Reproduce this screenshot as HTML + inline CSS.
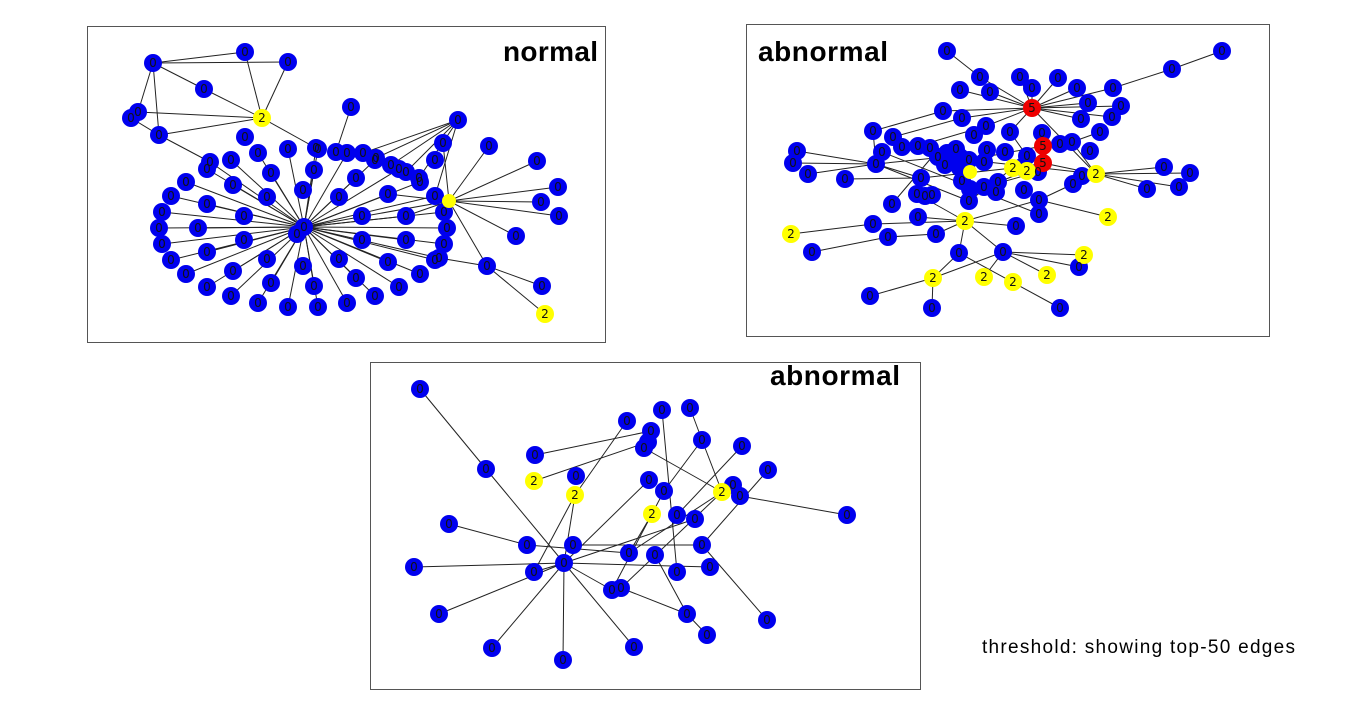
<!DOCTYPE html>
<html><head><meta charset="utf-8"><style>
body{margin:0;background:#fff;width:1372px;height:706px;overflow:hidden}
svg{position:absolute;left:0;top:0}
.e line{stroke:#222;stroke-width:1}
.b circle{fill:#0000ee}.y circle{fill:#ffff00}.r circle{fill:#ee0000}
.t text{font:12px "DejaVu Sans",sans-serif;fill:#111;text-anchor:middle;dominant-baseline:central}
.h{font-family:"Liberation Sans",sans-serif;font-weight:bold;fill:#000}
</style></head><body>
<svg width="1372" height="706">
<rect x="87.5" y="26.5" width="518" height="316" fill="none" stroke="#555"/>
<rect x="746.5" y="24.5" width="523" height="312" fill="none" stroke="#555"/>
<rect x="370.5" y="362.5" width="550" height="327" fill="none" stroke="#555"/>
<text class="h" x="503" y="61" font-size="28" textLength="95">normal</text>
<text class="h" x="758" y="61" font-size="28" textLength="130">abnormal</text>
<text class="h" x="770" y="385" font-size="28" textLength="130">abnormal</text>
<text x="982" y="653" font-family="Liberation Sans,sans-serif" font-size="19" fill="#000" textLength="313">threshold: showing top-50 edges</text>

<!-- PANEL 1 -->
<g class="e">
<line x1="153" y1="63" x2="245" y2="52"/><line x1="153" y1="63" x2="288" y2="62"/><line x1="153" y1="63" x2="204" y2="89"/><line x1="153" y1="63" x2="138" y2="112"/><line x1="153" y1="63" x2="159" y2="135"/>
<line x1="245" y1="52" x2="262" y2="118"/><line x1="288" y1="62" x2="262" y2="118"/><line x1="204" y1="89" x2="262" y2="118"/><line x1="138" y1="112" x2="262" y2="118"/><line x1="159" y1="135" x2="262" y2="118"/><line x1="131" y1="118" x2="159" y2="135"/><line x1="159" y1="135" x2="210" y2="162"/><line x1="262" y1="118" x2="316" y2="148"/><line x1="351" y1="107" x2="336" y2="152"/>
<line x1="458" y1="120" x2="363" y2="153"/><line x1="458" y1="120" x2="376" y2="158"/><line x1="458" y1="120" x2="391" y2="165"/><line x1="458" y1="120" x2="406" y2="172"/><line x1="458" y1="120" x2="419" y2="178"/><line x1="458" y1="120" x2="435" y2="196"/>
<line x1="449" y1="201" x2="489" y2="146"/><line x1="449" y1="201" x2="537" y2="161"/><line x1="449" y1="201" x2="558" y2="187"/><line x1="449" y1="201" x2="541" y2="202"/><line x1="449" y1="201" x2="559" y2="216"/><line x1="449" y1="201" x2="516" y2="236"/><line x1="449" y1="201" x2="487" y2="266"/><line x1="449" y1="201" x2="443" y2="143"/><line x1="449" y1="201" x2="406" y2="216"/><line x1="449" y1="201" x2="388" y2="194"/>
<line x1="487" y1="266" x2="542" y2="286"/><line x1="487" y1="266" x2="545" y2="314"/><line x1="487" y1="266" x2="439" y2="258"/>
<line x1="304" y1="227" x2="447" y2="228"/><line x1="304" y1="227" x2="444" y2="244"/><line x1="304" y1="227" x2="435" y2="260"/><line x1="304" y1="227" x2="420" y2="274"/><line x1="304" y1="227" x2="399" y2="287"/><line x1="304" y1="227" x2="375" y2="296"/><line x1="304" y1="227" x2="347" y2="303"/><line x1="304" y1="227" x2="318" y2="307"/><line x1="304" y1="227" x2="288" y2="307"/><line x1="304" y1="227" x2="258" y2="303"/><line x1="304" y1="227" x2="231" y2="296"/><line x1="304" y1="227" x2="207" y2="287"/><line x1="304" y1="227" x2="186" y2="274"/><line x1="304" y1="227" x2="171" y2="260"/><line x1="304" y1="227" x2="162" y2="244"/><line x1="304" y1="227" x2="159" y2="228"/><line x1="304" y1="227" x2="162" y2="212"/><line x1="304" y1="227" x2="171" y2="196"/><line x1="304" y1="227" x2="186" y2="182"/><line x1="304" y1="227" x2="207" y2="169"/><line x1="304" y1="227" x2="231" y2="160"/><line x1="304" y1="227" x2="258" y2="153"/><line x1="304" y1="227" x2="288" y2="149"/><line x1="304" y1="227" x2="318" y2="149"/><line x1="304" y1="227" x2="347" y2="153"/><line x1="304" y1="227" x2="375" y2="160"/><line x1="304" y1="227" x2="399" y2="169"/><line x1="304" y1="227" x2="420" y2="182"/><line x1="304" y1="227" x2="435" y2="196"/><line x1="304" y1="227" x2="444" y2="212"/>
<line x1="304" y1="227" x2="406" y2="240"/><line x1="304" y1="227" x2="388" y2="262"/><line x1="304" y1="227" x2="356" y2="278"/><line x1="304" y1="227" x2="314" y2="286"/><line x1="304" y1="227" x2="271" y2="283"/><line x1="304" y1="227" x2="233" y2="271"/><line x1="304" y1="227" x2="207" y2="252"/><line x1="304" y1="227" x2="198" y2="228"/><line x1="304" y1="227" x2="207" y2="204"/><line x1="304" y1="227" x2="233" y2="185"/><line x1="304" y1="227" x2="271" y2="173"/><line x1="304" y1="227" x2="314" y2="170"/><line x1="304" y1="227" x2="356" y2="178"/><line x1="304" y1="227" x2="388" y2="194"/><line x1="304" y1="227" x2="406" y2="216"/>
<line x1="304" y1="227" x2="210" y2="162"/><line x1="304" y1="227" x2="316" y2="148"/><line x1="304" y1="227" x2="439" y2="258"/><line x1="304" y1="227" x2="449" y2="201"/>
</g>
<g class="b">
<circle cx="153" cy="63" r="9"/><circle cx="245" cy="52" r="9"/><circle cx="288" cy="62" r="9"/><circle cx="204" cy="89" r="9"/><circle cx="138" cy="112" r="9"/><circle cx="131" cy="118" r="9"/><circle cx="159" cy="135" r="9"/><circle cx="351" cy="107" r="9"/><circle cx="210" cy="162" r="9"/><circle cx="316" cy="148" r="9"/><circle cx="336" cy="152" r="9"/><circle cx="245" cy="137" r="9"/>
<circle cx="458" cy="120" r="9"/><circle cx="443" cy="143" r="9"/><circle cx="435" cy="160" r="9"/><circle cx="489" cy="146" r="9"/><circle cx="537" cy="161" r="9"/><circle cx="558" cy="187" r="9"/><circle cx="541" cy="202" r="9"/><circle cx="559" cy="216" r="9"/><circle cx="516" cy="236" r="9"/><circle cx="487" cy="266" r="9"/><circle cx="542" cy="286" r="9"/><circle cx="439" cy="258" r="9"/><circle cx="363" cy="153" r="9"/><circle cx="376" cy="158" r="9"/><circle cx="391" cy="165" r="9"/><circle cx="406" cy="172" r="9"/><circle cx="419" cy="178" r="9"/>
<circle cx="447" cy="228" r="9"/><circle cx="444" cy="244" r="9"/><circle cx="435" cy="260" r="9"/><circle cx="420" cy="274" r="9"/><circle cx="399" cy="287" r="9"/><circle cx="375" cy="296" r="9"/><circle cx="347" cy="303" r="9"/><circle cx="318" cy="307" r="9"/><circle cx="288" cy="307" r="9"/><circle cx="258" cy="303" r="9"/><circle cx="231" cy="296" r="9"/><circle cx="207" cy="287" r="9"/><circle cx="186" cy="274" r="9"/><circle cx="171" cy="260" r="9"/><circle cx="162" cy="244" r="9"/><circle cx="159" cy="228" r="9"/><circle cx="162" cy="212" r="9"/><circle cx="171" cy="196" r="9"/><circle cx="186" cy="182" r="9"/><circle cx="207" cy="169" r="9"/><circle cx="231" cy="160" r="9"/><circle cx="258" cy="153" r="9"/><circle cx="288" cy="149" r="9"/><circle cx="318" cy="149" r="9"/><circle cx="347" cy="153" r="9"/><circle cx="375" cy="160" r="9"/><circle cx="399" cy="169" r="9"/><circle cx="420" cy="182" r="9"/><circle cx="435" cy="196" r="9"/><circle cx="444" cy="212" r="9"/>
<circle cx="406" cy="240" r="9"/><circle cx="388" cy="262" r="9"/><circle cx="356" cy="278" r="9"/><circle cx="314" cy="286" r="9"/><circle cx="271" cy="283" r="9"/><circle cx="233" cy="271" r="9"/><circle cx="207" cy="252" r="9"/><circle cx="198" cy="228" r="9"/><circle cx="207" cy="204" r="9"/><circle cx="233" cy="185" r="9"/><circle cx="271" cy="173" r="9"/><circle cx="314" cy="170" r="9"/><circle cx="356" cy="178" r="9"/><circle cx="388" cy="194" r="9"/><circle cx="406" cy="216" r="9"/>
<circle cx="362" cy="240" r="9"/><circle cx="339" cy="259" r="9"/><circle cx="303" cy="266" r="9"/><circle cx="267" cy="259" r="9"/><circle cx="244" cy="240" r="9"/><circle cx="244" cy="216" r="9"/><circle cx="267" cy="197" r="9"/><circle cx="303" cy="190" r="9"/><circle cx="339" cy="197" r="9"/><circle cx="362" cy="216" r="9"/>
<circle cx="297" cy="234" r="9"/><circle cx="304" cy="227" r="9"/>
</g>
<g class="y"><circle cx="262" cy="118" r="9"/><circle cx="449" cy="201" r="7"/><circle cx="545" cy="314" r="9"/></g>
<g class="t">
<text x="153" y="63">0</text><text x="245" y="52">0</text><text x="288" y="62">0</text><text x="204" y="89">0</text><text x="138" y="112">0</text><text x="131" y="118">0</text><text x="159" y="135">0</text><text x="351" y="107">0</text><text x="210" y="162">0</text><text x="316" y="148">0</text><text x="336" y="152">0</text><text x="245" y="137">0</text><text x="262" y="118">2</text><text x="545" y="314">2</text>
<text x="458" y="120">0</text><text x="443" y="143">0</text><text x="435" y="160">0</text><text x="489" y="146">0</text><text x="537" y="161">0</text><text x="558" y="187">0</text><text x="541" y="202">0</text><text x="559" y="216">0</text><text x="516" y="236">0</text><text x="487" y="266">0</text><text x="542" y="286">0</text><text x="439" y="258">0</text><text x="363" y="153">0</text><text x="376" y="158">0</text><text x="391" y="165">0</text><text x="406" y="172">0</text><text x="419" y="178">0</text>
<text x="447" y="228">0</text><text x="444" y="244">0</text><text x="435" y="260">0</text><text x="420" y="274">0</text><text x="399" y="287">0</text><text x="375" y="296">0</text><text x="347" y="303">0</text><text x="318" y="307">0</text><text x="288" y="307">0</text><text x="258" y="303">0</text><text x="231" y="296">0</text><text x="207" y="287">0</text><text x="186" y="274">0</text><text x="171" y="260">0</text><text x="162" y="244">0</text><text x="159" y="228">0</text><text x="162" y="212">0</text><text x="171" y="196">0</text><text x="186" y="182">0</text><text x="207" y="169">0</text><text x="231" y="160">0</text><text x="258" y="153">0</text><text x="288" y="149">0</text><text x="318" y="149">0</text><text x="347" y="153">0</text><text x="375" y="160">0</text><text x="399" y="169">0</text><text x="420" y="182">0</text><text x="435" y="196">0</text><text x="444" y="212">0</text>
<text x="406" y="240">0</text><text x="388" y="262">0</text><text x="356" y="278">0</text><text x="314" y="286">0</text><text x="271" y="283">0</text><text x="233" y="271">0</text><text x="207" y="252">0</text><text x="198" y="228">0</text><text x="207" y="204">0</text><text x="233" y="185">0</text><text x="271" y="173">0</text><text x="314" y="170">0</text><text x="356" y="178">0</text><text x="388" y="194">0</text><text x="406" y="216">0</text>
<text x="362" y="240">0</text><text x="339" y="259">0</text><text x="303" y="266">0</text><text x="267" y="259">0</text><text x="244" y="240">0</text><text x="244" y="216">0</text><text x="267" y="197">0</text><text x="303" y="190">0</text><text x="339" y="197">0</text><text x="362" y="216">0</text><text x="297" y="234">0</text><text x="304" y="227">0</text>
</g>

<!-- PANEL 2 -->
<g class="e">
<line x1="947" y1="51" x2="980" y2="77"/><line x1="1222" y1="51" x2="1172" y2="69"/><line x1="1172" y1="69" x2="1113" y2="88"/>
<line x1="1032" y1="108" x2="980" y2="77"/><line x1="1032" y1="108" x2="1020" y2="77"/><line x1="1032" y1="108" x2="1058" y2="78"/><line x1="1032" y1="108" x2="1032" y2="88"/><line x1="1032" y1="108" x2="960" y2="90"/><line x1="1032" y1="108" x2="990" y2="92"/><line x1="1032" y1="108" x2="1077" y2="88"/><line x1="1032" y1="108" x2="1113" y2="88"/><line x1="1032" y1="108" x2="1088" y2="103"/><line x1="1032" y1="108" x2="1121" y2="106"/><line x1="1032" y1="108" x2="1081" y2="119"/><line x1="1032" y1="108" x2="1112" y2="117"/><line x1="1032" y1="108" x2="943" y2="111"/><line x1="1032" y1="108" x2="962" y2="118"/><line x1="1032" y1="108" x2="986" y2="126"/><line x1="1032" y1="108" x2="1010" y2="132"/><line x1="1032" y1="108" x2="1096" y2="174"/>
<line x1="943" y1="111" x2="873" y2="131"/><line x1="962" y1="118" x2="893" y2="137"/><line x1="873" y1="131" x2="876" y2="164"/><line x1="797" y1="151" x2="876" y2="164"/><line x1="793" y1="163" x2="876" y2="164"/><line x1="808" y1="174" x2="876" y2="164"/><line x1="845" y1="179" x2="921" y2="178"/><line x1="876" y1="164" x2="921" y2="178"/><line x1="876" y1="164" x2="969" y2="201"/><line x1="876" y1="164" x2="945" y2="157"/>
<line x1="1096" y1="174" x2="1164" y2="167"/><line x1="1096" y1="174" x2="1190" y2="173"/><line x1="1096" y1="174" x2="1147" y2="189"/><line x1="1096" y1="174" x2="1179" y2="187"/><line x1="1096" y1="174" x2="1073" y2="184"/><line x1="1096" y1="174" x2="1043" y2="163"/>
<line x1="1039" y1="200" x2="1073" y2="184"/><line x1="1039" y1="200" x2="1108" y2="217"/><line x1="1039" y1="200" x2="965" y2="221"/><line x1="1039" y1="214" x2="882" y2="152"/>
<line x1="965" y1="221" x2="918" y2="217"/><line x1="965" y1="221" x2="873" y2="224"/><line x1="873" y1="224" x2="791" y2="234"/><line x1="965" y1="221" x2="1016" y2="226"/><line x1="965" y1="221" x2="936" y2="234"/><line x1="888" y1="237" x2="936" y2="234"/><line x1="812" y1="252" x2="888" y2="237"/><line x1="965" y1="221" x2="959" y2="253"/><line x1="965" y1="221" x2="1003" y2="252"/><line x1="965" y1="221" x2="917" y2="194"/>
<line x1="959" y1="253" x2="933" y2="278"/><line x1="959" y1="253" x2="1060" y2="308"/><line x1="1003" y1="252" x2="1084" y2="255"/><line x1="1003" y1="252" x2="1079" y2="267"/><line x1="1003" y1="252" x2="1047" y2="275"/><line x1="1003" y1="252" x2="933" y2="278"/><line x1="1003" y1="252" x2="984" y2="277"/><line x1="933" y1="278" x2="870" y2="296"/><line x1="933" y1="278" x2="932" y2="308"/>
<line x1="921" y1="178" x2="1013" y2="168"/><line x1="969" y1="160" x2="1043" y2="146"/><line x1="1027" y1="156" x2="1043" y2="163"/><line x1="1013" y1="168" x2="969" y2="201"/><line x1="1043" y1="146" x2="1060" y2="144"/><line x1="1072" y1="142" x2="1100" y2="132"/><line x1="1072" y1="142" x2="1096" y2="174"/><line x1="1010" y1="132" x2="1027" y2="156"/><line x1="986" y1="126" x2="918" y2="146"/><line x1="969" y1="160" x2="1096" y2="174"/><line x1="892" y1="204" x2="932" y2="157"/><line x1="1043" y1="146" x2="1043" y2="133"/><line x1="998" y1="182" x2="1027" y2="171"/><line x1="984" y1="187" x2="1038" y2="172"/>
</g>
<g class="b">
<circle cx="947" cy="51" r="9"/><circle cx="1222" cy="51" r="9"/><circle cx="1172" cy="69" r="9"/><circle cx="980" cy="77" r="9"/><circle cx="1020" cy="77" r="9"/><circle cx="1058" cy="78" r="9"/><circle cx="1032" cy="88" r="9"/><circle cx="960" cy="90" r="9"/><circle cx="990" cy="92" r="9"/><circle cx="1077" cy="88" r="9"/><circle cx="1113" cy="88" r="9"/><circle cx="943" cy="111" r="9"/><circle cx="1088" cy="103" r="9"/><circle cx="1121" cy="106" r="9"/><circle cx="1081" cy="119" r="9"/><circle cx="1112" cy="117" r="9"/><circle cx="962" cy="118" r="9"/><circle cx="986" cy="126" r="9"/><circle cx="873" cy="131" r="9"/><circle cx="1010" cy="132" r="9"/><circle cx="1042" cy="133" r="9"/><circle cx="1100" cy="132" r="9"/><circle cx="974" cy="135" r="9"/><circle cx="893" cy="137" r="9"/><circle cx="902" cy="147" r="9"/><circle cx="918" cy="146" r="9"/><circle cx="930" cy="148" r="9"/><circle cx="1060" cy="144" r="9"/><circle cx="1072" cy="142" r="9"/><circle cx="1090" cy="151" r="9"/><circle cx="797" cy="151" r="9"/><circle cx="882" cy="152" r="9"/><circle cx="793" cy="163" r="9"/><circle cx="876" cy="164" r="9"/><circle cx="808" cy="174" r="9"/><circle cx="845" cy="179" r="9"/>
<circle cx="938" cy="157" r="9"/><circle cx="947" cy="153" r="9"/><circle cx="956" cy="149" r="9"/><circle cx="960" cy="157" r="9"/><circle cx="945" cy="165" r="9"/><circle cx="960" cy="168" r="9"/><circle cx="969" cy="160" r="9"/><circle cx="984" cy="162" r="9"/><circle cx="987" cy="150" r="9"/><circle cx="1005" cy="152" r="9"/><circle cx="1027" cy="156" r="9"/><circle cx="1038" cy="172" r="9"/><circle cx="1022" cy="167" r="9"/><circle cx="921" cy="178" r="9"/><circle cx="1082" cy="176" r="9"/><circle cx="1164" cy="167" r="9"/><circle cx="1190" cy="173" r="9"/><circle cx="1147" cy="189" r="9"/><circle cx="1179" cy="187" r="9"/><circle cx="1073" cy="184" r="9"/><circle cx="962" cy="181" r="9"/><circle cx="970" cy="189" r="9"/><circle cx="984" cy="187" r="9"/><circle cx="998" cy="182" r="9"/><circle cx="996" cy="192" r="9"/><circle cx="1024" cy="190" r="9"/><circle cx="917" cy="194" r="9"/><circle cx="925" cy="196" r="9"/><circle cx="932" cy="195" r="9"/><circle cx="969" cy="201" r="9"/><circle cx="892" cy="204" r="9"/><circle cx="1039" cy="200" r="9"/><circle cx="1039" cy="214" r="9"/><circle cx="918" cy="217" r="9"/><circle cx="873" cy="224" r="9"/><circle cx="1016" cy="226" r="9"/><circle cx="936" cy="234" r="9"/><circle cx="888" cy="237" r="9"/><circle cx="812" cy="252" r="9"/><circle cx="959" cy="253" r="9"/><circle cx="1003" cy="252" r="9"/><circle cx="1079" cy="267" r="9"/><circle cx="870" cy="296" r="9"/><circle cx="932" cy="308" r="9"/><circle cx="1060" cy="308" r="9"/>
</g>
<g class="r"><circle cx="1032" cy="108" r="9"/><circle cx="1043" cy="146" r="9"/><circle cx="1043" cy="163" r="9"/></g>
<g class="y"><circle cx="970" cy="172" r="7"/><circle cx="1013" cy="168" r="9"/><circle cx="1027" cy="171" r="9"/><circle cx="1096" cy="174" r="9"/><circle cx="1108" cy="217" r="9"/><circle cx="965" cy="221" r="9"/><circle cx="791" cy="234" r="9"/><circle cx="1084" cy="255" r="9"/><circle cx="933" cy="278" r="9"/><circle cx="984" cy="277" r="9"/><circle cx="1047" cy="275" r="9"/><circle cx="1013" cy="282" r="9"/></g>
<g class="t">
<text x="947" y="51">0</text><text x="1222" y="51">0</text><text x="1172" y="69">0</text><text x="980" y="77">0</text><text x="1020" y="77">0</text><text x="1058" y="78">0</text><text x="1032" y="88">0</text><text x="960" y="90">0</text><text x="990" y="92">0</text><text x="1077" y="88">0</text><text x="1113" y="88">0</text><text x="1032" y="108">5</text><text x="943" y="111">0</text><text x="1088" y="103">0</text><text x="1121" y="106">0</text><text x="1081" y="119">0</text><text x="1112" y="117">0</text><text x="962" y="118">0</text><text x="986" y="126">0</text><text x="873" y="131">0</text><text x="1010" y="132">0</text><text x="1042" y="133">0</text><text x="1100" y="132">0</text><text x="974" y="135">0</text><text x="893" y="137">0</text><text x="902" y="147">0</text><text x="918" y="146">0</text><text x="930" y="148">0</text><text x="1060" y="144">0</text><text x="1072" y="142">0</text><text x="1090" y="151">0</text><text x="1043" y="146">5</text><text x="1043" y="163">5</text><text x="797" y="151">0</text><text x="882" y="152">0</text><text x="793" y="163">0</text><text x="876" y="164">0</text><text x="808" y="174">0</text><text x="845" y="179">0</text>
<text x="938" y="157">0</text><text x="956" y="149">0</text><text x="945" y="165">0</text><text x="969" y="160">0</text><text x="984" y="162">0</text><text x="987" y="150">0</text><text x="1005" y="152">0</text><text x="1027" y="156">0</text><text x="1038" y="172">0</text><text x="921" y="178">0</text><text x="1082" y="176">0</text><text x="962" y="181">0</text><text x="984" y="187">0</text><text x="998" y="182">0</text><text x="996" y="192">0</text><text x="1024" y="190">0</text><text x="917" y="194">0</text><text x="925" y="196">0</text><text x="932" y="195">0</text>
<text x="1013" y="168">2</text><text x="1027" y="171">2</text><text x="1096" y="174">2</text><text x="1164" y="167">0</text><text x="1190" y="173">0</text><text x="1147" y="189">0</text><text x="1179" y="187">0</text><text x="1073" y="184">0</text><text x="969" y="201">0</text><text x="892" y="204">0</text><text x="1039" y="200">0</text><text x="1039" y="214">0</text><text x="1108" y="217">2</text><text x="918" y="217">0</text><text x="965" y="221">2</text><text x="873" y="224">0</text><text x="1016" y="226">0</text><text x="791" y="234">2</text><text x="936" y="234">0</text><text x="888" y="237">0</text><text x="812" y="252">0</text><text x="959" y="253">0</text><text x="1003" y="252">0</text><text x="1084" y="255">2</text><text x="1079" y="267">0</text><text x="933" y="278">2</text><text x="984" y="277">2</text><text x="1047" y="275">2</text><text x="1013" y="282">2</text><text x="870" y="296">0</text><text x="932" y="308">0</text><text x="1060" y="308">0</text>
</g>

<!-- PANEL 3 -->
<g class="e">
<line x1="420" y1="389" x2="486" y2="469"/><line x1="486" y1="469" x2="564" y2="563"/><line x1="449" y1="524" x2="527" y2="545"/><line x1="527" y1="545" x2="629" y2="553"/><line x1="573" y1="545" x2="702" y2="545"/>
<line x1="564" y1="563" x2="414" y2="567"/><line x1="564" y1="563" x2="439" y2="614"/><line x1="564" y1="563" x2="492" y2="648"/><line x1="564" y1="563" x2="563" y2="660"/><line x1="564" y1="563" x2="634" y2="647"/><line x1="564" y1="563" x2="612" y2="590"/><line x1="564" y1="563" x2="649" y2="480"/><line x1="564" y1="563" x2="575" y2="495"/><line x1="564" y1="563" x2="710" y2="567"/><line x1="564" y1="563" x2="695" y2="519"/><line x1="564" y1="563" x2="534" y2="572"/>
<line x1="535" y1="455" x2="651" y2="431"/><line x1="534" y1="481" x2="648" y2="442"/><line x1="722" y1="492" x2="644" y2="448"/><line x1="575" y1="495" x2="627" y2="421"/><line x1="534" y1="572" x2="575" y2="495"/><line x1="662" y1="410" x2="677" y2="572"/><line x1="690" y1="408" x2="702" y2="440"/><line x1="702" y1="440" x2="722" y2="492"/><line x1="702" y1="440" x2="664" y2="491"/><line x1="742" y1="446" x2="677" y2="515"/><line x1="768" y1="470" x2="702" y2="545"/><line x1="740" y1="496" x2="847" y2="515"/><line x1="722" y1="492" x2="621" y2="588"/><line x1="652" y1="514" x2="629" y2="553"/><line x1="655" y1="555" x2="687" y2="614"/><line x1="621" y1="588" x2="687" y2="614"/><line x1="702" y1="545" x2="767" y2="620"/><line x1="687" y1="614" x2="707" y2="635"/><line x1="722" y1="492" x2="629" y2="553"/><line x1="664" y1="491" x2="612" y2="590"/>
</g>
<g class="b">
<circle cx="420" cy="389" r="9"/><circle cx="486" cy="469" r="9"/><circle cx="535" cy="455" r="9"/><circle cx="576" cy="476" r="9"/><circle cx="627" cy="421" r="9"/><circle cx="651" cy="431" r="9"/><circle cx="648" cy="442" r="9"/><circle cx="644" cy="448" r="9"/><circle cx="662" cy="410" r="9"/><circle cx="690" cy="408" r="9"/><circle cx="702" cy="440" r="9"/><circle cx="742" cy="446" r="9"/><circle cx="768" cy="470" r="9"/><circle cx="733" cy="485" r="9"/><circle cx="740" cy="496" r="9"/><circle cx="847" cy="515" r="9"/><circle cx="649" cy="480" r="9"/><circle cx="664" cy="491" r="9"/><circle cx="677" cy="515" r="9"/><circle cx="695" cy="519" r="9"/><circle cx="449" cy="524" r="9"/><circle cx="527" cy="545" r="9"/><circle cx="573" cy="545" r="9"/><circle cx="564" cy="563" r="9"/><circle cx="629" cy="553" r="9"/><circle cx="655" cy="555" r="9"/><circle cx="702" cy="545" r="9"/><circle cx="414" cy="567" r="9"/><circle cx="534" cy="572" r="9"/><circle cx="677" cy="572" r="9"/><circle cx="710" cy="567" r="9"/><circle cx="612" cy="590" r="9"/><circle cx="621" cy="588" r="9"/><circle cx="439" cy="614" r="9"/><circle cx="687" cy="614" r="9"/><circle cx="707" cy="635" r="9"/><circle cx="767" cy="620" r="9"/><circle cx="492" cy="648" r="9"/><circle cx="563" cy="660" r="9"/><circle cx="634" cy="647" r="9"/>
</g>
<g class="y"><circle cx="534" cy="481" r="9"/><circle cx="575" cy="495" r="9"/><circle cx="722" cy="492" r="9"/><circle cx="652" cy="514" r="9"/></g>
<g class="t">
<text x="420" y="389">0</text><text x="486" y="469">0</text><text x="535" y="455">0</text><text x="534" y="481">2</text><text x="576" y="476">0</text><text x="575" y="495">2</text><text x="627" y="421">0</text><text x="651" y="431">0</text><text x="644" y="448">0</text><text x="662" y="410">0</text><text x="690" y="408">0</text><text x="702" y="440">0</text><text x="742" y="446">0</text><text x="768" y="470">0</text><text x="733" y="485">0</text><text x="722" y="492">2</text><text x="740" y="496">0</text><text x="847" y="515">0</text><text x="649" y="480">0</text><text x="664" y="491">0</text><text x="652" y="514">2</text><text x="677" y="515">0</text><text x="695" y="519">0</text><text x="449" y="524">0</text><text x="527" y="545">0</text><text x="573" y="545">0</text><text x="564" y="563">0</text><text x="629" y="553">0</text><text x="655" y="555">0</text><text x="702" y="545">0</text><text x="414" y="567">0</text><text x="534" y="572">0</text><text x="677" y="572">0</text><text x="710" y="567">0</text><text x="612" y="590">0</text><text x="621" y="588">0</text><text x="439" y="614">0</text><text x="687" y="614">0</text><text x="707" y="635">0</text><text x="767" y="620">0</text><text x="492" y="648">0</text><text x="563" y="660">0</text><text x="634" y="647">0</text>
</g>
</svg>
</body></html>
